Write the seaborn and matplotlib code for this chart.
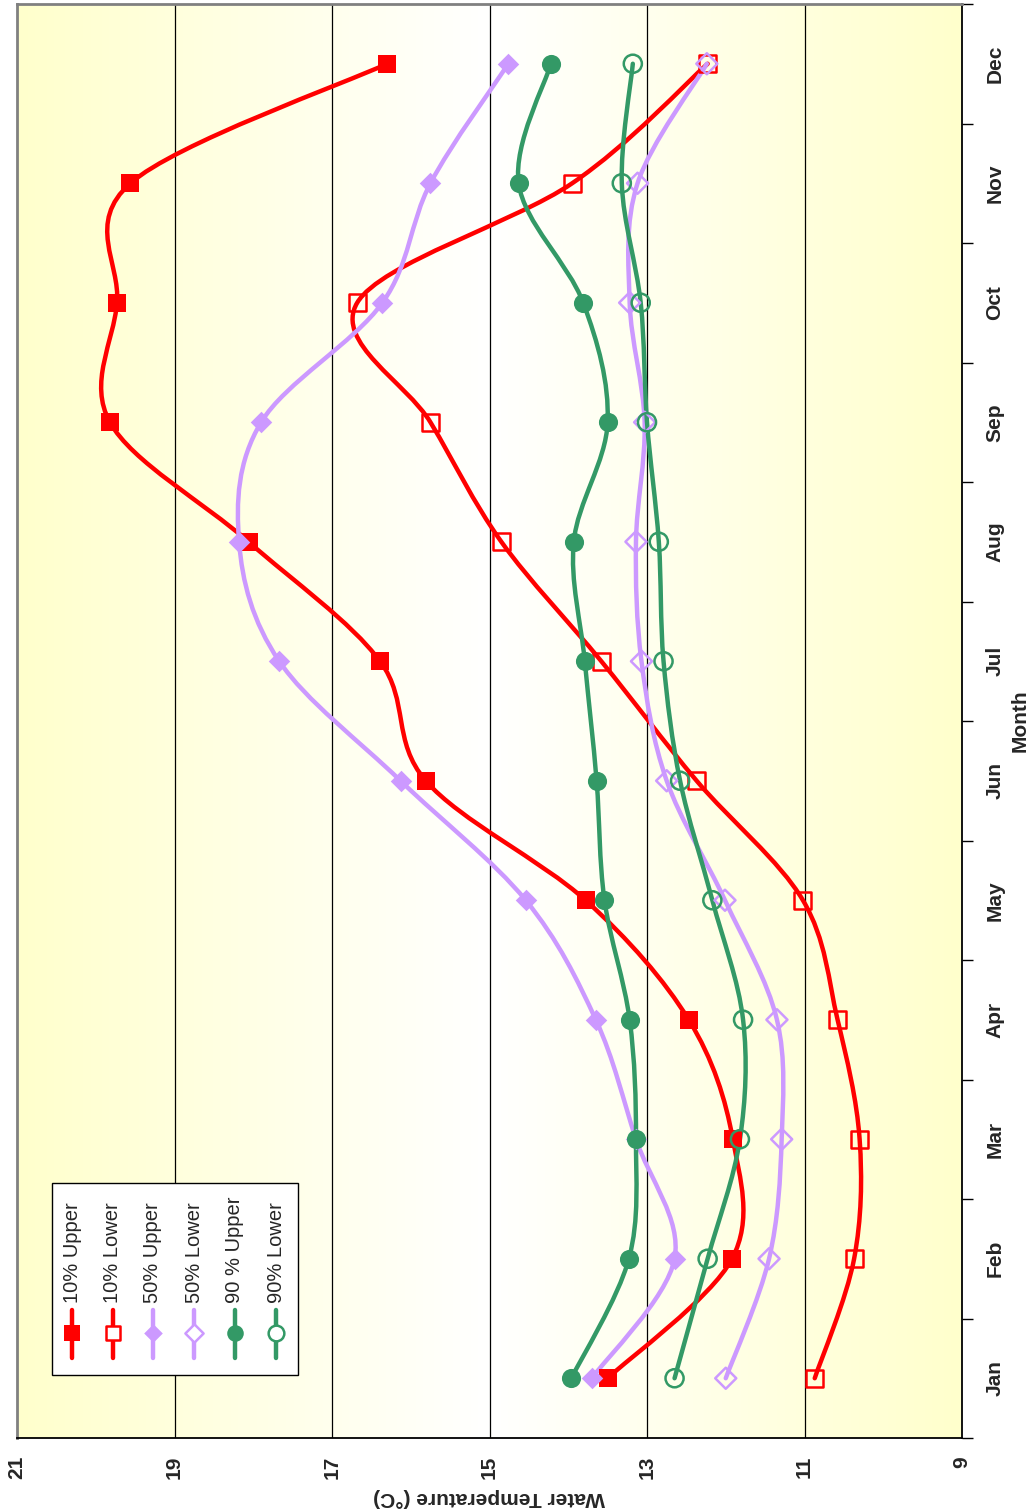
import numpy as np
import matplotlib
matplotlib.use("Agg")
import matplotlib.pyplot as plt
import seaborn as sns
from matplotlib.path import Path
from matplotlib.patches import PathPatch, Rectangle

months = ['Jan', 'Feb', 'Mar', 'Apr', 'May', 'Jun', 'Jul', 'Aug', 'Sep', 'Oct', 'Nov', 'Dec']

# water temperature (deg C) per month
upper_10 = [13.50, 11.92, 11.91, 12.47, 13.78, 15.81, 16.39, 18.06, 19.82, 19.73, 19.56, 16.30]
lower_10 = [10.87, 10.37, 10.30, 10.58, 11.02, 12.37, 13.58, 14.85, 15.75, 16.68, 13.95, 12.23]
upper_50 = [13.70, 12.65, 13.14, 13.65, 14.54, 16.13, 17.67, 18.18, 17.90, 16.36, 15.75, 14.76]
lower_50 = [12.00, 11.45, 11.29, 11.35, 12.01, 12.75, 13.07, 13.14, 13.03, 13.22, 13.12, 12.24]
upper_90 = [13.96, 13.23, 13.14, 13.22, 13.54, 13.64, 13.79, 13.93, 13.50, 13.81, 14.63, 14.22]
lower_90 = [12.65, 12.23, 11.82, 11.78, 12.17, 12.58, 12.79, 12.85, 13.00, 13.08, 13.32, 13.18]

series_names = ['10% Upper', '10% Lower', '50% Upper', '50% Lower', '90 % Upper', '90% Lower']

red = '#FF0000'
purple = '#CC99FF'
green = '#339966'

styles = [
    (upper_10, red, 's', True, 170),
    (lower_10, red, 's', False, 150),
    (upper_50, purple, 'D', True, 120),
    (lower_50, purple, 'D', False, 115),
    (upper_90, green, 'o', True, 190),
    (lower_90, green, 'o', False, 170),
]

sns.set_style("white")
plt.rcParams['font.family'] = ['Liberation Sans', 'DejaVu Sans']

fig = plt.figure(figsize=(10.34, 15.12), dpi=100)
ax = fig.add_axes([17 / 1034, 1 - 1438 / 1512, 945 / 1034, 1434 / 1512])

# yellow - white - yellow gradient background
g = np.abs(np.linspace(-1, 1, 256))
edge = np.array([1.0, 1.0, 0.80])
grad = 1 - np.outer(g, 1 - edge).reshape(1, 256, 3)
ax.imshow(grad, extent=[21, 9, -0.5, 11.5], aspect='auto', zorder=0)

for t in [11, 13, 15, 17, 19]:
    ax.axvline(t, color='#000000', lw=0.9, zorder=1)


def smooth_path(xs, ys):
    pts = np.column_stack([xs, ys])
    n = len(pts)
    verts = [pts[0]]
    codes = [Path.MOVETO]
    for i in range(n - 1):
        p0 = pts[max(i - 1, 0)]
        p1 = pts[i]
        p2 = pts[i + 1]
        p3 = pts[min(i + 2, n - 1)]
        c1 = p1 + (p2 - p0) / 6.0
        c2 = p2 - (p3 - p1) / 6.0
        verts += [c1, c2, p2]
        codes += [Path.CURVE4] * 3
    return Path(verts, codes)


idx = np.arange(len(months))
for vals, col, mk, filled, size in styles:
    ax.add_patch(PathPatch(smooth_path(vals, idx), facecolor='none', edgecolor=col,
                           lw=3.2, zorder=3, capstyle='round'))
    if filled:
        sns.scatterplot(x=vals, y=idx, marker=mk, s=size, color=col, edgecolor=col,
                        linewidth=0, ax=ax, zorder=4)
    else:
        sns.scatterplot(x=vals, y=idx, marker=mk, s=size, facecolor='none', edgecolor=col,
                        linewidth=1.8, ax=ax, zorder=4)

ax.set_xlim(21, 9)
ax.set_ylim(-0.5, 11.5)

ax.set_xticks(np.arange(9, 22, 2))
ax.set_xticklabels([str(v) for v in range(9, 22, 2)], rotation=90, fontsize=15, fontweight='bold')
ax.tick_params(axis='x', direction='out', length=10, width=1, pad=3, color='#000000')
ax.set_xlabel('Water Temperature (°C)', fontsize=15, fontweight='bold', rotation=180, labelpad=6)

ax.yaxis.tick_right()
ax.yaxis.set_label_position('right')
ax.set_yticks(idx)
ax.set_yticklabels(months, rotation=90, fontsize=15, fontweight='bold', va='center')
ax.set_yticks(np.arange(-0.5, 12, 1), minor=True)
ax.tick_params(axis='y', which='major', length=0, pad=17)
ax.tick_params(axis='y', which='minor', direction='out', length=8, width=1, color='#000000')
ax.set_ylabel('Month', fontsize=15, fontweight='bold', rotation=90, labelpad=4)

for side in ['top', 'left']:
    ax.spines[side].set_color('#808080')
    ax.spines[side].set_linewidth(2)
for side in ['bottom', 'right']:
    ax.spines[side].set_color('#000000')
    ax.spines[side].set_linewidth(1.3)
    ax.spines[side].set_visible(True)
ax.grid(False)

# legend box drawn in axes fraction
tr = ax.transAxes
ax.add_patch(Rectangle((0.037, 0.044), 0.260, 0.134, transform=tr, facecolor='white',
                       edgecolor='#000000', lw=1, zorder=5))
legend_x = [(px - 17) / 945 for px in [72, 113, 153, 194, 235, 276]]
line_y0 = (1438 - 1358) / 1434
line_y1 = (1438 - 1310) / 1434
mark_y = (1438 - 1333) / 1434
text_y = (1438 - 1303) / 1434
for lx, name, (vals, col, mk, filled, size) in zip(legend_x, series_names, styles):
    ax.plot([lx, lx], [line_y0, line_y1], transform=tr, color=col, lw=3.2, zorder=6)
    ax.scatter([lx], [mark_y], transform=tr, marker=mk, s=size * 0.75,
               facecolor=col if filled else 'white', edgecolor=col,
               linewidth=0 if filled else 1.8, zorder=7)
    ax.text(lx, text_y, name, transform=tr, rotation=90, ha='center', va='bottom',
            fontsize=14.5, zorder=7)

fig.savefig('out.png', dpi=100)
